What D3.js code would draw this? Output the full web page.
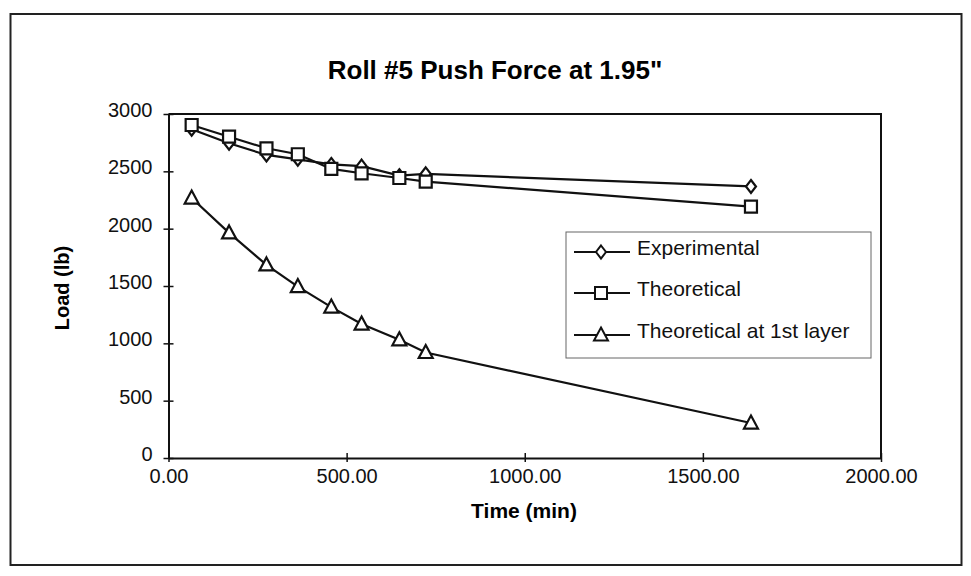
<!DOCTYPE html>
<html>
<head>
<meta charset="utf-8">
<script src="https://cdn.jsdelivr.net/npm/d3@7"></script>
<style>
  body { margin: 0; background: #fff; }
  svg { display: block; font-family: "Liberation Sans", Arial, sans-serif; }
</style>
</head>
<body>
<div id="chart"></div>
<script>
// time (min) for each reading
const times = [65, 170, 275, 363, 457, 542, 648, 722, 1635]
const experimental = [2867, 2745, 2643, 2605, 2560, 2545, 2462, 2478, 2368]
const theoretical = [2904, 2802, 2701, 2649, 2521, 2483, 2442, 2410, 2192]
const theoreticalFirstLayer = [2267, 1963, 1684, 1495, 1316, 1168, 1031, 920, 305]

const seriesNames = ['Experimental', 'Theoretical', 'Theoretical at 1st layer']
const seriesMarkers = ['diamond', 'square', 'triangle']
const xTicks = [0, 500, 1000, 1500, 2000]
const yTicks = [0, 500, 1000, 1500, 2000, 2500, 3000]

const width = 971
const height = 576
const plot = { left: 168.5, right: 881, top: 114, bottom: 458 }

const svg = d3.select('#chart')
  .append('svg')
  .attr('width', width)
  .attr('height', height)

// outer chart frame
svg.append('rect')
  .attr('x', 10.5).attr('y', 14)
  .attr('width', 951).attr('height', 551)
  .attr('fill', '#fff')
  .attr('stroke', '#222')
  .attr('stroke-width', 2)

svg.append('text')
  .attr('x', 495).attr('y', 79)
  .attr('text-anchor', 'middle')
  .attr('font-size', 26)
  .attr('font-weight', 'bold')
  .text('Roll #5 Push Force at 1.95"')

const x = d3.scaleLinear().domain([0, 2000]).range([plot.left, plot.right])
const y = d3.scaleLinear().domain([0, 3000]).range([plot.bottom, plot.top])

// plot area border (top + right)
svg.append('path')
  .attr('d', `M${plot.left},${plot.top}H${plot.right}V${plot.bottom}`)
  .attr('fill', 'none')
  .attr('stroke', '#111')
  .attr('stroke-width', 2)

const xAxis = svg.append('g')
  .attr('transform', `translate(0,${plot.bottom})`)
  .call(d3.axisBottom(x).tickValues(xTicks).tickFormat(d3.format('.2f'))
    .tickSizeOuter(0).tickSizeInner(0).tickPadding(11))
xAxis.selectAll('.tick line').attr('y1', 4).attr('y2', -5)

const yAxis = svg.append('g')
  .attr('transform', `translate(${plot.left},0)`)
  .call(d3.axisLeft(y).tickValues(yTicks).tickFormat(d3.format('d'))
    .tickSizeOuter(0).tickSizeInner(0).tickPadding(16))
yAxis.selectAll('.tick line').attr('x1', -5).attr('x2', 5)
yAxis.selectAll('.tick text').attr('dy', '0.12em')

svg.selectAll('.domain').attr('stroke', '#111').attr('stroke-width', 2)
svg.selectAll('.tick line').attr('stroke', '#111').attr('stroke-width', 1.5)
svg.selectAll('.tick text')
  .attr('font-size', 20)
  .attr('fill', '#111')
  .attr('font-family', '"Liberation Sans", Arial, sans-serif')

svg.append('text')
  .attr('x', 524).attr('y', 518)
  .attr('text-anchor', 'middle')
  .attr('font-size', 21)
  .attr('font-weight', 'bold')
  .text('Time (min)')

svg.append('text')
  .attr('transform', 'translate(69,288) rotate(-90)')
  .attr('text-anchor', 'middle')
  .attr('font-size', 20)
  .attr('font-weight', 'bold')
  .text('Load (lb)')

const symbolPath = {
  diamond: 'M0,-6.5L5,0L0,6.5L-5,0Z',
  square: 'M-6,-6H6V6H-6Z',
  triangle: 'M0,-7.5L7,5.5L-7,5.5Z'
}

const series = [experimental, theoretical, theoreticalFirstLayer].map((vals, i) => ({
  name: seriesNames[i],
  marker: seriesMarkers[i],
  points: vals.map((v, j) => ({ t: times[j], v: v }))
}))

const line = d3.line().x(d => x(d.t)).y(d => y(d.v))

const g = svg.append('g').attr('class', 'series')

series.forEach(s => {
  g.append('path')
    .datum(s.points)
    .attr('d', line)
    .attr('fill', 'none')
    .attr('stroke', '#111')
    .attr('stroke-width', 2.2)
})

series.forEach(s => {
  g.selectAll('.pt-' + s.marker)
    .data(s.points)
    .enter()
    .append('path')
    .attr('class', 'pt-' + s.marker)
    .attr('transform', d => `translate(${x(d.t)},${y(d.v)})`)
    .attr('d', symbolPath[s.marker])
    .attr('fill', '#fff')
    .attr('stroke', '#111')
    .attr('stroke-width', 2.2)
})

// legend
const legend = svg.append('g')
legend.append('rect')
  .attr('x', 566).attr('y', 232)
  .attr('width', 305).attr('height', 126)
  .attr('fill', '#fff')
  .attr('stroke', '#666')
  .attr('stroke-width', 1)

const rowY = [252, 293, 335]
series.forEach((s, i) => {
  const row = legend.append('g').attr('transform', `translate(0,${rowY[i]})`)
  row.append('line')
    .attr('x1', 574).attr('x2', 630)
    .attr('y1', 0).attr('y2', 0)
    .attr('stroke', '#111').attr('stroke-width', 2)
  row.append('path')
    .attr('transform', 'translate(601,0)')
    .attr('d', symbolPath[s.marker])
    .attr('fill', '#fff')
    .attr('stroke', '#111')
    .attr('stroke-width', 2)
  row.append('text')
    .attr('x', 637).attr('y', 3)
    .attr('font-size', 21)
    .attr('fill', '#111')
    .text(s.name)
})
</script>
</body>
</html>
